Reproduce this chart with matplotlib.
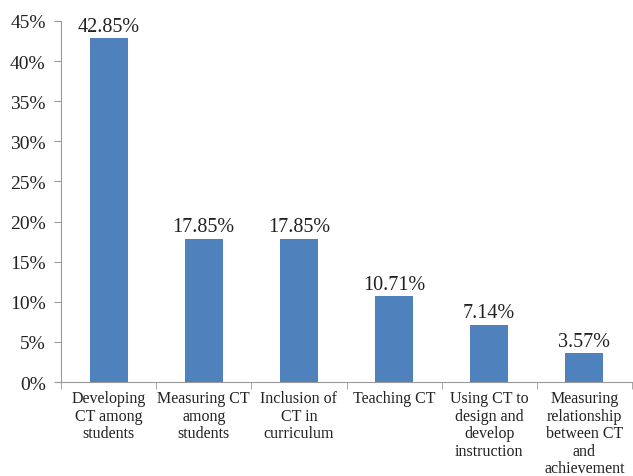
import numpy as np
import matplotlib
matplotlib.use("Agg")
import matplotlib.pyplot as plt
from matplotlib.ticker import FuncFormatter, FixedLocator

categories = ["Developing\nCT among\nstudents",
              "Measuring CT\namong\nstudents",
              "Inclusion of\nCT in\ncurriculum",
              "Teaching CT",
              "Using CT to\ndesign and\ndevelop\ninstruction",
              "Measuring\nrelationship\nbetween CT\nand\nachievement"]
values = [42.85, 17.85, 17.85, 10.71, 7.14, 3.57]
value_labels = ["42.85%", "17.85%", "17.85%", "10.71%", "7.14%", "3.57%"]
y_ticks = [0, 5, 10, 15, 20, 25, 30, 35, 40, 45]

plt.rcParams['font.family'] = ['Liberation Serif', 'DejaVu Serif']

fig = plt.figure(figsize=(6.33, 4.77), dpi=100)
ax = fig.add_axes([0.0964, 0.197, 0.902, 0.757])

x = np.arange(len(categories))
ax.bar(x, values, width=0.4, color="#4F81BD")

# value labels above each bar
for xi, v, lab in zip(x, values, value_labels):
    ax.text(xi, v + 0.3, lab, ha="center", va="bottom", fontsize=14.5, color="#222222")

ax.set_xlim(-0.5, len(categories) - 0.5)
ax.set_ylim(0, 45)
ax.set_yticks(y_ticks)
ax.yaxis.set_major_formatter(FuncFormatter(lambda v, p: "%d%%" % v))

ax.set_xticks(x)
ax.set_xticklabels(categories, fontsize=11.5, linespacing=1.12, va="top")
ax.xaxis.set_minor_locator(FixedLocator(np.arange(-0.5, len(categories), 1.0)))
ax.tick_params(axis="x", which="major", length=0, pad=6, colors="#222222")
ax.tick_params(axis="x", which="minor", length=5, color="#999999")
ax.tick_params(axis="y", length=5, color="#999999", labelsize=14, labelcolor="#222222", pad=6)

for s in ["top", "right"]:
    ax.spines[s].set_visible(False)
for s in ["left", "bottom"]:
    ax.spines[s].set_color("#999999")

fig.savefig("out.png", dpi=100)
